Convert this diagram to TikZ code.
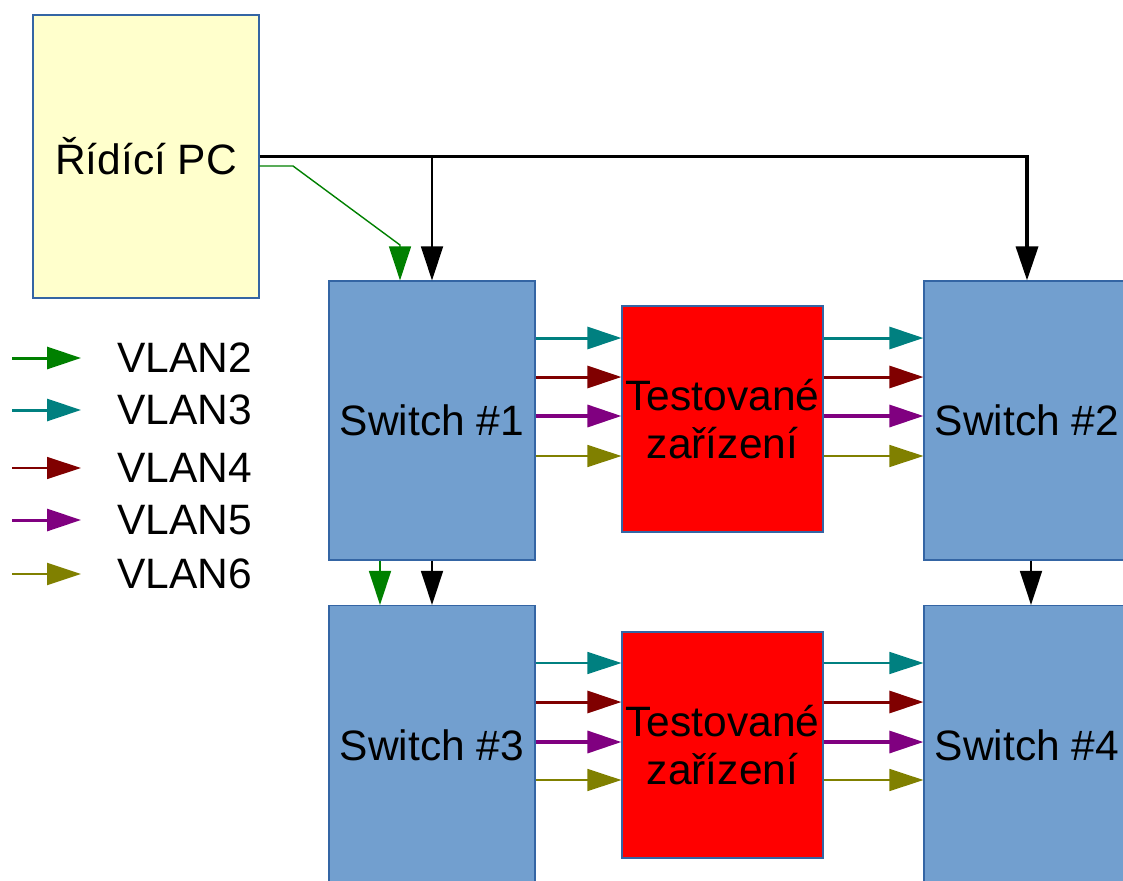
\documentclass[tikz,border=0pt]{standalone}
\usepackage{fontspec}
\setmainfont{Liberation Sans}
\usetikzlibrary{arrows.meta}

\definecolor{swfill}{HTML}{729FCF}
\definecolor{swedge}{HTML}{3465A4}
\definecolor{pcfill}{HTML}{FFFFCC}
\definecolor{vlantwo}{HTML}{008000}
\definecolor{vlanthree}{HTML}{008080}
\definecolor{vlanfour}{HTML}{800000}
\definecolor{vlanfive}{HTML}{800080}
\definecolor{vlansix}{HTML}{808000}

\begin{document}
\begin{tikzpicture}[
    x=1pt, y=-1pt,
    every node/.style={font=\fontsize{42.5}{48}\selectfont},
    box/.style={
        draw=swedge,
        line width=1.2pt,
        inner sep=0pt,
        align=center
    },
    switchbox/.style={
        box,
        fill=swfill,
        minimum width=206pt,
        minimum height=279pt
    },
    dutbox/.style={
        box,
        fill=red,
        minimum width=201pt,
        minimum height=226pt
    },
    tip/.style={-{Triangle[length=34pt,width=22pt]}},
    legendlabel/.style={anchor=west, inner sep=0pt}
]

    \useasboundingbox (0,0) rectangle (1123,880);
    \clip (0,0) rectangle (1123,880);

    % Control PC
    \node[box, fill=pcfill, minimum width=226pt, minimum height=283pt]
        (pc) at (146,156.5) {Řídící PC};

    % Switches and tested devices
    \node[switchbox] (sw1) at (432,420.5) {Switch \#1};
    \node[dutbox] (dut1) at (722.5,419) {Testované\\zařízení};
    \node[switchbox] (sw2) at (1027,420.5) {Switch \#2};

    \node[switchbox] (sw3) at (432,745) {Switch \#3};
    \node[dutbox] (dut2) at (722.5,745) {Testované\\zařízení};
    \node[switchbox] (sw4) at (1027,745) {Switch \#4};

    % Management lines from the PC
    \draw[line width=3.5pt, tip] (pc.east) -| (sw2.north);
    \draw[line width=1.8pt, tip] (sw1.north |- pc.east) -- (sw1.north);
    \coordinate (gbend) at (293,166);
    \coordinate (gdrop) at (400,245);
    \draw[vlantwo, line width=1.4pt, tip]
        (pc.east |- gbend) -- (gbend) -- (gdrop) -- (sw1.north -| gdrop);

    % Links between upper and lower switches
    \draw[vlantwo, line width=1.8pt, tip]
        ([xshift=-52pt]sw1.south) -- ([xshift=-52pt]sw3.north);
    \draw[line width=1.8pt, tip] (sw1.south) -- (sw3.north);
    \draw[line width=1.8pt, tip]
        ([xshift=4pt]sw2.south) -- ([xshift=4pt]sw4.north);

    % VLAN links through the tested devices
    \foreach \yy/\col/\wl/\wr in {338/vlanthree/3.0/3.0, 377/vlanfour/3.0/3.0,
                                  416/vlanfive/3.4/3.2, 456/vlansix/1.7/1.7} {
        \draw[\col, line width=\wl pt, tip] (sw1.east |- 0,\yy) -- (dut1.west |- 0,\yy);
        \draw[\col, line width=\wr pt, tip] (dut1.east |- 0,\yy) -- (sw2.west |- 0,\yy);
    }
    \foreach \yy/\col/\wl/\wr in {663/vlanthree/1.7/1.7, 702/vlanfour/3.0/3.0,
                                  742/vlanfive/3.4/3.2, 780/vlansix/1.7/1.7} {
        \draw[\col, line width=\wl pt, tip] (sw3.east |- 0,\yy) -- (dut2.west |- 0,\yy);
        \draw[\col, line width=\wr pt, tip] (dut2.east |- 0,\yy) -- (sw4.west |- 0,\yy);
    }

    % Legend
    \foreach \n/\yy/\col/\wl in {2/358/vlantwo/3.0, 3/410/vlanthree/3.0,
                                 4/468/vlanfour/1.3, 5/520/vlanfive/3.0,
                                 6/574/vlansix/2.2} {
        \node[legendlabel] (vlan\n) at (117,\yy) {VLAN\n};
        \draw[\col, line width=\wl pt, tip]
            ([xshift=-105pt]vlan\n.west) -- ([xshift=-36pt]vlan\n.west);
    }

\end{tikzpicture}
\end{document}
